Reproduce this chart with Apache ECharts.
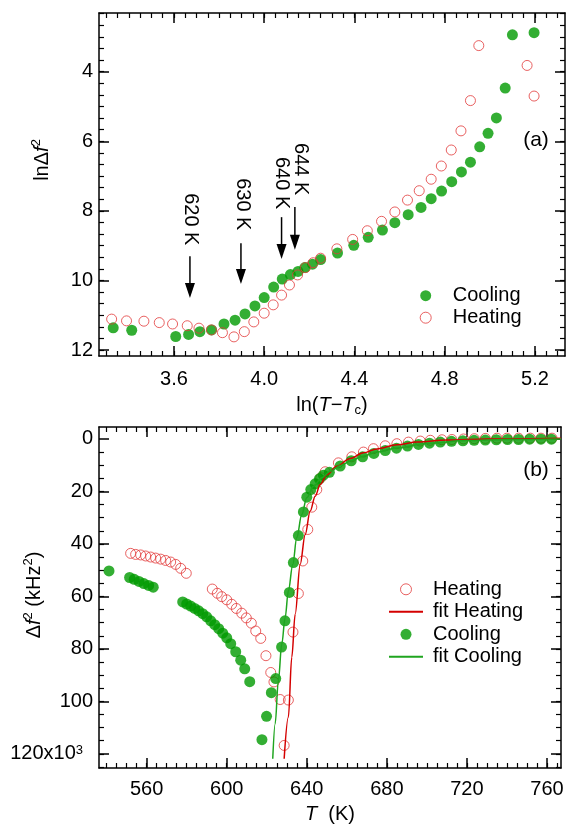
<!DOCTYPE html>
<html><head><meta charset="utf-8">
<script src="https://cdn.jsdelivr.net/npm/echarts@6/dist/echarts.min.js"></script>
<style>html,body{margin:0;padding:0;background:#fff}#c{width:568px;height:827px}</style>
</head><body><div id="c"></div>
<script>
const FONT = "'Liberation Sans', Arial, Helvetica, sans-serif";

// ---------- panel (a): ln(T-Tc) vs ln(Δf²) ----------
const topCoolX = [3.331,3.413,3.608,3.665,3.715,3.767,3.822,3.871,3.915,3.959,4.000,4.042,4.080,4.116,4.150,4.180,4.214,4.250,4.325,4.397,4.461,4.524,4.579,4.638,4.695,4.740,4.786,4.831,4.874,4.914,4.955,4.992,5.029,5.068,5.100,5.196];
const topCoolY = [11.36,11.43,11.61,11.55,11.47,11.42,11.25,11.14,10.96,10.73,10.49,10.19,9.96,9.83,9.74,9.63,9.53,9.40,9.21,8.99,8.76,8.55,8.34,8.11,7.90,7.65,7.43,7.16,6.88,6.60,6.16,5.77,5.33,4.47,2.94,2.88];
const topHeatX = [3.324,3.390,3.467,3.535,3.594,3.659,3.711,3.766,3.815,3.866,3.912,3.954,4.000,4.040,4.077,4.112,4.148,4.183,4.217,4.250,4.322,4.392,4.457,4.520,4.579,4.635,4.687,4.740,4.785,4.829,4.872,4.914,4.951,5.165,5.196];
const topHeatY = [11.11,11.16,11.17,11.21,11.25,11.30,11.37,11.42,11.50,11.62,11.47,11.19,10.94,10.70,10.42,10.13,9.84,9.63,9.49,9.36,9.09,8.82,8.57,8.30,8.03,7.69,7.42,7.09,6.71,6.25,5.70,4.83,3.25,3.82,4.70];
const topXMajor = [3.6,4.0,4.4,4.8,5.2];
const topYMajor = [4,6,8,10,12];

// annotations (in panel-a data units)
const arrowLabels = ['620 K','630 K','640 K','644 K'];
const arrowX      = [3.671,3.897,4.077,4.136];
const arrowTextX  = [3.675,3.903,4.076,4.160];
const arrowTextTop= [7.49,7.06,6.45,6.05];
const arrowStart  = [9.30,8.93,8.18,7.89];
const arrowEnd    = [10.50,10.10,9.38,9.12];

// ---------- panel (b): T vs Δf² (x10³ kHz²) ----------
const botHeatT = [552,554.5,557,559.5,562,564.5,567,569.5,572,574.5,577,579.8,592.8,595.3,597.5,600,602.5,604.8,607.5,609.8,612.3,614.5,617,619.6,622,623.6,626.7,628.7,630.8,633.1,635.8,638,640.5,642.5,645,647,649.2,655.8,662.5,668.3,673.3,679.2,685,690.8,696.7,701.7,707.5,712.5,718.3,723.7,729.2,735,740,745.8,751.7,757,762.5];
const botHeatV = [43.6,44.0,44.2,44.6,45.0,45.4,45.8,46.3,46.9,47.8,49.3,51.2,57.2,58.8,60.1,61.3,63.0,64.6,66.4,68.2,70.2,73.2,76.0,82.6,89.0,92.6,99.3,116.8,99.5,73.6,58.9,46.5,34.5,26.0,19.3,14.8,12.5,9.1,6.8,5.0,3.7,2.6,1.8,1.2,0.8,0.5,0.3,0.2,0.0,-0.1,-0.2,-0.3,-0.3,-0.3,-0.3,-0.3,-0.3];
const botCoolT = [541.2,551.5,553.8,556.2,558.6,561,563.3,578,580,582,584,586,588,590,592,594,596,598,600,602,604.5,607,609,611.5,617.6,619.9,622.3,624.5,627.4,629.1,631.3,633.3,635.8,638.3,640,642,644.2,646.3,648.3,651.3,656.7,662.2,667.9,673.5,679.2,684.8,690.3,695.8,701.3,706.7,712.3,718,723.6,729.2,734.7,740.3,745.8,751.3,757,762.2];
const botCoolV = [50.3,52.8,53.5,54.3,55.1,55.8,56.5,62.1,62.9,63.7,64.6,65.5,66.6,67.8,69.3,70.8,72.3,74.0,75.8,78.0,81.1,84.3,87.6,92.5,114.6,105.7,96.7,91.3,79.3,69.3,58.5,47.1,36.8,27.8,22.2,19.3,17.1,15.2,13.8,12.7,10.3,8.3,6.8,5.5,4.4,3.5,2.7,2.1,1.6,1.2,0.9,0.7,0.5,0.4,0.3,0.2,0.2,0.1,0.1,0.1];
const fitHeatT = [628.7,630.8,632.5,634.2,636.7,639.2,641.7,644.2,646.7,650,655,661.7,668.3,675,685,695,710,730,767];
const fitHeatV = [121.9,106,83.2,66.8,47.8,36.4,27.5,21.8,17.4,13.6,10.4,7.4,5.3,3.8,2.2,1.2,0.4,0.0,-0.3];
const fitCoolT = [623,624.2,625.8,627.5,629.2,630.8,633,635,637.5,640,643.3,647.5,651.7,657,662,668,675,685,700,720,740,767];
const fitCoolV = [121.9,108.6,92.1,78.2,68.0,57.9,47.8,37.6,28.8,22.4,18.0,14.8,12.3,10.1,8.3,6.6,5.0,3.4,1.7,0.6,0.2,0.0];
const botXMajor = [560,600,640,680,720,760];
const botYMajor = [0,20,40,60,80,100,120];

// minor tick helpers (tick positions only)
function ticks(a, b, step){ const r=[]; for(let v=a; v<=b+1e-9; v+=step) r.push(+v.toFixed(4)); return r; }
const topXMinor = ticks(3.30, 5.30, 0.05);
const topYMinor = ticks(7/3, 12, 1/3);
const botXMinor = ticks(540, 765, 5);
const botYMinor = ticks(5, 125, 5);

const zip = (a,b) => a.map((v,i)=>[v,b[i]]);

const GREEN = '#009a00', RED = '#e23a3a';
const rich = {
  i:{fontFamily:FONT,fontSize:20,fontStyle:'italic',color:'#000',lineHeight:24},
  n:{fontFamily:FONT,fontSize:20,color:'#000',lineHeight:24},
  sub:{fontFamily:FONT,fontSize:13,color:'#000',verticalAlign:'bottom',lineHeight:13},
  sup:{fontFamily:FONT,fontSize:13,color:'#000',verticalAlign:'top',lineHeight:13}
};

function axisSet(dim, grid, min, max, major, minor, inverse, labelOpts, nameOpts){
  const pos = dim==='x' ? ['bottom','top'] : ['left','right'];
  const base = {type:'value', gridIndex:grid, min, max, inverse, splitLine:{show:false}};
  const line = {show:true, onZero:false, lineStyle:{color:'#000', width:1.5}};
  const noLine = {show:false, onZero:false};
  const res = [];
  res.push(Object.assign({}, base, {position:pos[0],
    axisLine:line,
    axisTick:{show:true, inside:true, length:10, customValues:major, lineStyle:{color:'#000',width:1.5}},
    axisLabel:Object.assign({show:true, customValues:major, fontFamily:FONT, fontSize:20, color:'#000'}, labelOpts)
  }, nameOpts||{}));
  res.push(Object.assign({}, base, {position:pos[0], axisLine:noLine,
    axisTick:{show:true, inside:true, length:5, customValues:minor, lineStyle:{color:'#000',width:1.2}},
    axisLabel:{show:false, customValues:minor}}));
  res.push(Object.assign({}, base, {position:pos[1], axisLine:line,
    axisTick:{show:true, inside:true, length:10, customValues:major, lineStyle:{color:'#000',width:1.5}},
    axisLabel:{show:false, customValues:major}}));
  res.push(Object.assign({}, base, {position:pos[1], axisLine:noLine,
    axisTick:{show:true, inside:true, length:5, customValues:minor, lineStyle:{color:'#000',width:1.2}},
    axisLabel:{show:false, customValues:minor}}));
  return res;
}

const xAxes = [
  ...axisSet('x',0,3.268,5.333,topXMajor,topXMinor,false,{margin:13, formatter:v=>v.toFixed(1)},
    {name:'ln({i|T}−{i|T}{sub|c})', nameLocation:'middle', nameGap:37,
     nameTextStyle:{fontFamily:FONT,fontSize:20,color:'#000',lineHeight:24,rich}}),
  ...axisSet('x',1,536.2,767,botXMajor,botXMinor,false,{margin:11},
    {name:'{i|T}  (K)', nameLocation:'middle', nameGap:34,
     nameTextStyle:{fontFamily:FONT,fontSize:20,color:'#000',lineHeight:24,rich}})
];
const yAxes = [
  ...axisSet('y',0,2.313,12.17,topYMajor,topYMinor,true,{margin:6}),
  ...axisSet('y',1,-4.56,125.4,botYMajor,botYMinor,true,{margin:6,
     formatter:v=> v===120 ? '120x10{sup|3}{sp|}' : String(v),
     rich:{sup:{fontFamily:FONT,fontSize:13,color:'#000',verticalAlign:'top',lineHeight:13},
           sp:{width:10}}})
];

const legendText = {fontFamily:FONT,fontSize:20,color:'#000',lineHeight:20,padding:[0,0,0,5]};
const openRed = {color:'rgba(0,0,0,0)',borderColor:RED,borderWidth:1};
const noSym = {color:'rgba(0,0,0,0)',borderWidth:0,opacity:0};
const option = {
  animation:false,
  backgroundColor:'#fff',
  textStyle:{fontFamily:FONT},
  grid:[
    {left:99, top:13, width:466, height:343},
    {left:99, top:427, width:462, height:342}
  ],
  xAxis:xAxes,
  yAxis:yAxes,
  legend:[
    {orient:'vertical', left:419.7, top:285.7, padding:0, itemWidth:34, itemHeight:11, itemGap:2, selectedMode:false,
     textStyle:legendText,
     data:[{name:'Cooling', icon:'circle', itemStyle:{color:GREEN,borderWidth:0}},
           {name:'Heating', icon:'circle', itemStyle:openRed}]},
    {orient:'vertical', left:388, top:579.3, padding:0, itemWidth:34, itemHeight:11, itemGap:2.5, selectedMode:false,
     textStyle:legendText,
     data:[{name:'Heating', icon:'circle', itemStyle:openRed},
           {name:'fit Heating', itemStyle:noSym},
           {name:'Cooling', icon:'circle', itemStyle:{color:GREEN,borderWidth:0}},
           {name:'fit Cooling', itemStyle:noSym}]}
  ],
  series:[
    {name:'Cooling', type:'scatter', xAxisIndex:0, yAxisIndex:0, data:zip(topCoolX,topCoolY),
     symbolSize:11, itemStyle:{color:GREEN}},
    {name:'Heating', type:'scatter', xAxisIndex:0, yAxisIndex:0, data:zip(topHeatX,topHeatY),
     symbolSize:10, itemStyle:openRed},
    {name:'Heating', type:'scatter', xAxisIndex:4, yAxisIndex:4, data:zip(botHeatT,botHeatV),
     symbolSize:10, itemStyle:openRed},
    {name:'fit Heating', type:'line', xAxisIndex:4, yAxisIndex:4, data:zip(fitHeatT,fitHeatV),
     symbol:'none', smooth:0.35, smoothMonotone:'x', lineStyle:{color:'#d40000', width:1.5}, itemStyle:{color:'#d40000'}},
    {name:'Cooling', type:'scatter', xAxisIndex:4, yAxisIndex:4, data:zip(botCoolT,botCoolV),
     symbolSize:11, itemStyle:{color:GREEN}},
    {name:'fit Cooling', type:'line', xAxisIndex:4, yAxisIndex:4, data:zip(fitCoolT,fitCoolV),
     symbol:'none', smooth:0.35, smoothMonotone:'x', lineStyle:{color:'#1fa51f', width:1.5}, itemStyle:{color:'#1fa51f'}}
  ]
};

const chart = echarts.init(document.getElementById('c'), null, {renderer:'canvas'});
chart.setOption(option);

// annotations placed through the axes' own scales
const g = [];
for (let k=0;k<arrowLabels.length;k++){
  const pT = chart.convertToPixel({xAxisIndex:0, yAxisIndex:0}, [arrowTextX[k], arrowTextTop[k]]);
  const pS = chart.convertToPixel({xAxisIndex:0, yAxisIndex:0}, [arrowX[k], arrowStart[k]]);
  const pE = chart.convertToPixel({xAxisIndex:0, yAxisIndex:0}, [arrowX[k], arrowEnd[k]]);
  g.push({type:'text', x:pT[0], y:pT[1], rotation:-Math.PI/2,
    style:{text:arrowLabels[k], font:'20px '+FONT, fill:'#000', align:'left', textAlign:'left', verticalAlign:'middle', textVerticalAlign:'middle'}});
  g.push({type:'line', shape:{x1:pS[0], y1:pS[1], x2:pE[0], y2:pE[1]-12}, style:{stroke:'#000', lineWidth:1.5}});
  g.push({type:'polygon', shape:{points:[[pE[0]-5,pE[1]-15],[pE[0]+5,pE[1]-15],[pE[0],pE[1]]]}, style:{fill:'#000'}});
}
g.push({type:'text', x:536, y:140, style:{text:'(a)', font:'21px '+FONT, fill:'#000', align:'center', textAlign:'center', verticalAlign:'middle', textVerticalAlign:'middle'}});
g.push({type:'text', x:536, y:470, style:{text:'(b)', font:'21px '+FONT, fill:'#000', align:'center', textAlign:'center', verticalAlign:'middle', textVerticalAlign:'middle'}});
g.push({type:'text', x:42, y:160, rotation:Math.PI/2,
  style:{text:'{n|lnΔ}{i|f}{sup|2}', rich, align:'center', textAlign:'center', verticalAlign:'middle', textVerticalAlign:'middle'}});
g.push({type:'text', x:34, y:595, rotation:Math.PI/2,
  style:{text:'{n|Δ}{i|f}{sup|2}{n| (kHz}{sup|2}{n|)}', rich, align:'center', textAlign:'center', verticalAlign:'middle', textVerticalAlign:'middle'}});
chart.setOption({graphic:g});
</script></body></html>
